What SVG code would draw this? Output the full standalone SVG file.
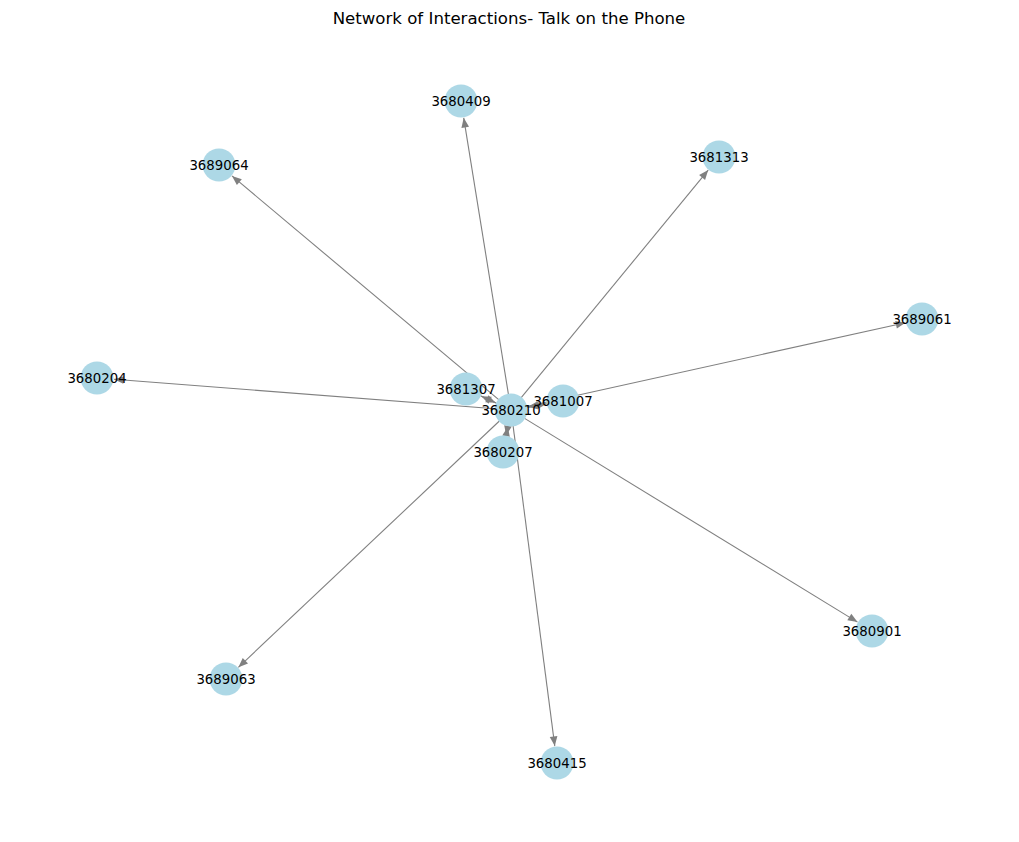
<svg xmlns="http://www.w3.org/2000/svg" width="1019" height="842" viewBox="0 0 1019 842">
<style>
.e{stroke:#808080;stroke-width:1.1;fill:none;marker-end:url(#ah)}
.n circle{fill:#ADD8E6}
.n text{font-family:"DejaVu Sans",sans-serif;font-size:13.3px;text-anchor:middle;fill:#000}
.title{font-family:"DejaVu Sans",sans-serif;font-size:16.6px;text-anchor:middle;fill:#000}
</style>
<defs>
<marker id="ah" markerUnits="userSpaceOnUse" markerWidth="12" markerHeight="10" viewBox="-9 -4 10 8" refX="0" refY="0" orient="auto">
<path d="M0,0 L-8,-3.2 L-8,3.2 z" fill="#808080"/>
</marker>
</defs>
<rect width="1019" height="842" fill="#fff"/>
<text class="title" x="509" y="24">Network of Interactions- Talk on the Phone</text>
<g id="edges">
<line class="e" x1="508.4" y1="394.2" x2="463.7" y2="117.8"/>
<line class="e" x1="521.2" y1="397.6" x2="708.2" y2="170.1"/>
<line class="e" x1="498.7" y1="399.7" x2="232.0" y2="175.9"/>
<line class="e" x1="526.6" y1="406.5" x2="905.4" y2="322.7"/>
<line class="e" x1="495.0" y1="408.8" x2="114.0" y2="379.3"/>
<line class="e" x1="524.6" y1="418.4" x2="857.5" y2="622.1"/>
<line class="e" x1="499.4" y1="421.0" x2="238.4" y2="667.3"/>
<line class="e" x1="513.1" y1="425.9" x2="554.8" y2="746.1"/>
<line class="e" x1="496.5" y1="403.2" x2="481.4" y2="396.2"/>
<line class="e" x1="480.5" y1="395.8" x2="495.6" y2="402.8"/>
<line class="e" x1="526.8" y1="407.3" x2="546.2" y2="403.9"/>
<line class="e" x1="547.2" y1="403.7" x2="527.8" y2="407.1"/>
<line class="e" x1="508.0" y1="425.7" x2="506.2" y2="435.3"/>
<line class="e" x1="506.0" y1="436.3" x2="507.8" y2="426.7"/>
</g>
<g id="n3680409" class="n"><circle cx="461" cy="101" r="16.5"/><text x="461" y="106">3680409</text></g>
<g id="n3681313" class="n"><circle cx="719" cy="157" r="16.5"/><text x="719" y="162">3681313</text></g>
<g id="n3689064" class="n"><circle cx="219" cy="165" r="16.5"/><text x="219" y="170">3689064</text></g>
<g id="n3689061" class="n"><circle cx="922" cy="319" r="16.5"/><text x="922" y="324">3689061</text></g>
<g id="n3680204" class="n"><circle cx="97" cy="378" r="16.5"/><text x="97" y="383">3680204</text></g>
<g id="n3681307" class="n"><circle cx="466" cy="389" r="16.5"/><text x="466" y="394">3681307</text></g>
<g id="n3681007" class="n"><circle cx="563" cy="401" r="16.5"/><text x="563" y="406">3681007</text></g>
<g id="n3680207" class="n"><circle cx="503" cy="452" r="16.5"/><text x="503" y="457">3680207</text></g>
<g id="n3680210" class="n"><circle cx="511" cy="410" r="16.5"/><text x="511" y="415">3680210</text></g>
<g id="n3680901" class="n"><circle cx="872" cy="631" r="16.5"/><text x="872" y="636">3680901</text></g>
<g id="n3689063" class="n"><circle cx="226" cy="679" r="16.5"/><text x="226" y="684">3689063</text></g>
<g id="n3680415" class="n"><circle cx="557" cy="763" r="16.5"/><text x="557" y="768">3680415</text></g>
</svg>
